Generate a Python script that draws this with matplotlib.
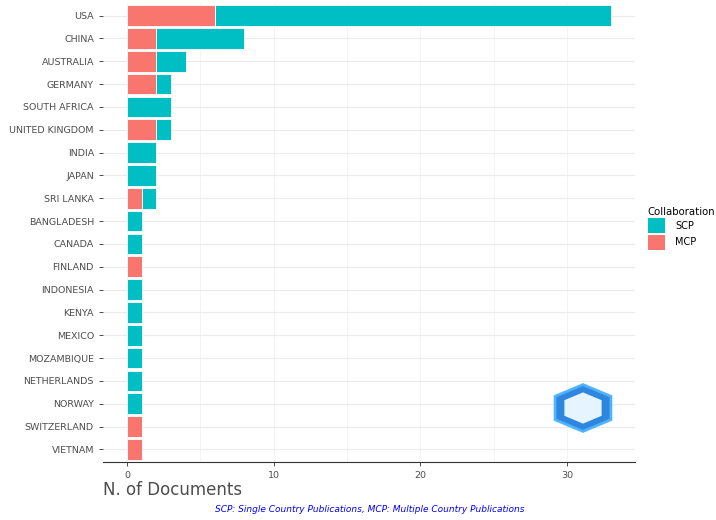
import numpy as np
import matplotlib
matplotlib.use("Agg")
import matplotlib.pyplot as plt
from matplotlib.patches import RegularPolygon, Patch

countries = ["USA", "CHINA", "AUSTRALIA", "GERMANY", "SOUTH AFRICA", "UNITED KINGDOM",
             "INDIA", "JAPAN", "SRI LANKA", "BANGLADESH", "CANADA", "FINLAND",
             "INDONESIA", "KENYA", "MEXICO", "MOZAMBIQUE", "NETHERLANDS", "NORWAY",
             "SWITZERLAND", "VIETNAM"]
mcp = [6, 2, 2, 2, 0, 2, 0, 0, 1, 0, 0, 1, 0, 0, 0, 0, 0, 0, 1, 1]
scp = [27, 6, 2, 1, 3, 1, 2, 2, 1, 1, 1, 0, 1, 1, 1, 1, 1, 1, 0, 0]
xticks = [0, 10, 20, 30]

SCP_COL = "#00BFC4"
MCP_COL = "#F8766D"

fig = plt.figure(figsize=(7.16, 5.2), dpi=100)
W, H = 716, 520
ax = fig.add_axes([103 / W, 1 - 462 / H, (635 - 103) / W, (462 - 3) / H])

y = np.arange(len(countries))
ax.barh(y, mcp, height=0.9, color=MCP_COL, edgecolor="white", linewidth=0.6, zorder=3)
ax.barh(y, scp, left=mcp, height=0.9, color=SCP_COL, edgecolor="white", linewidth=0.6, zorder=3)

ax.set_ylim(len(countries) - 0.45, -0.55)
ax.set_xlim(-1.65, 34.65)
ax.set_yticks(y)
ax.set_yticklabels(countries, fontsize=6.8, color="#4D4D4D")
ax.set_xticks(xticks)
ax.set_xticklabels([str(t) for t in xticks], fontsize=6.8, color="#4D4D4D")
ax.set_xticks([5, 15, 25], minor=True)
ax.tick_params(axis="both", length=3, color="#333333", width=0.6)
ax.tick_params(axis="x", which="minor", length=0)

ax.grid(axis="y", color="#EBEBEB", linewidth=0.8, zorder=0)
ax.grid(axis="x", which="both", color="#F2F2F2", linewidth=0.6, zorder=0)
for s in ["top", "right", "left"]:
    ax.spines[s].set_visible(False)
ax.spines["bottom"].set_color("#333333")
ax.spines["bottom"].set_linewidth(0.8)

fig.text(103 / W, 1 - 490 / H, "N. of Documents", fontsize=12, color="#4D4D4D",
         ha="left", va="center")
fig.text(370 / W, 1 - 509 / H, "SCP: Single Country Publications, MCP: Multiple Country Publications",
         fontsize=6.5, color="blue", style="italic", ha="center", va="center")

handles = [Patch(facecolor=SCP_COL, label="SCP"), Patch(facecolor=MCP_COL, label="MCP")]
leg = fig.legend(handles=handles, title="Collaboration", loc="upper left",
                 bbox_to_anchor=(639 / W, 1 - 198 / H), frameon=False, fontsize=7,
                 title_fontsize=7.3, handlelength=1.8, handleheight=2.0,
                 labelspacing=0.15, handletextpad=1.0, alignment="left")

# logo placeholder
fig.patches.append(RegularPolygon((583 / W, 1 - 408 / H), numVertices=6, radius=0.045,
                                  orientation=0, transform=fig.transFigure,
                                  facecolor="#2E86DE", edgecolor="#4FB3FF", linewidth=2))
fig.patches.append(RegularPolygon((583 / W, 1 - 408 / H), numVertices=6, radius=0.03,
                                  orientation=0, transform=fig.transFigure,
                                  facecolor="#E6F4FF", edgecolor="none"))

fig.savefig("out.png", dpi=100)
